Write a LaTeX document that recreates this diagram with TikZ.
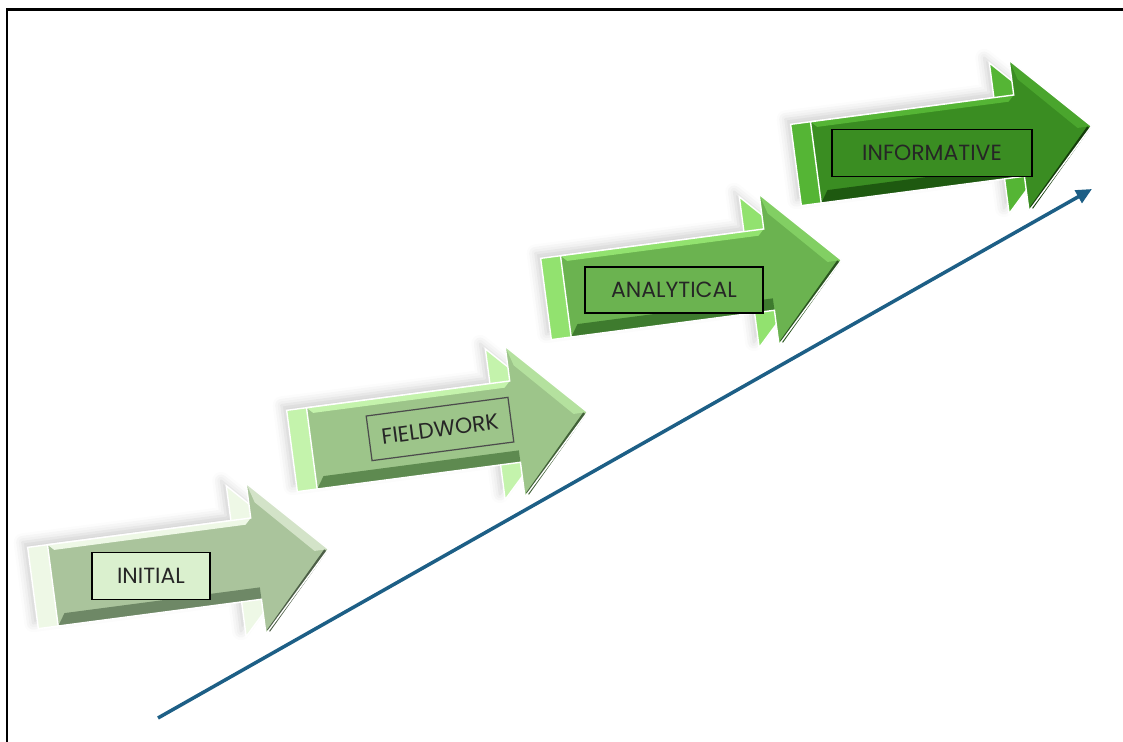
\documentclass[tikz,border=0pt]{standalone}
\usepackage{fontspec}
\setmainfont{Poppins}
\usetikzlibrary{arrows.meta,shadows.blur}

\definecolor{trendblue}{HTML}{1D5F86}
\definecolor{iniside}{HTML}{EEF8E6}
\definecolor{iniface}{HTML}{AAC49C}
\definecolor{inidark}{HTML}{6E8866}
\definecolor{inibox}{HTML}{DAF0CE}
\definecolor{fldside}{HTML}{C4F3AC}
\definecolor{fldface}{HTML}{9DC58A}
\definecolor{flddark}{HTML}{5E8A50}
\definecolor{anaside}{HTML}{92E26F}
\definecolor{anaface}{HTML}{6BB350}
\definecolor{anadark}{HTML}{3E7B2E}
\definecolor{infside}{HTML}{55B535}
\definecolor{infface}{HTML}{3A8D22}
\definecolor{infdark}{HTML}{1E5910}

\tikzset{
  lab/.style={draw=black, line width=0.7pt, inner sep=0pt, text=black!85,
    font=\fontsize{12.5}{14}\selectfont},
}

\begin{document}
\begin{tikzpicture}[x=0.02cm, y=-0.02cm]
  \useasboundingbox (0,0) rectangle (1123,742);
  % frame (top and left only)
  \draw[line width=1.7pt] (1123,10) -- (7,10) -- (7,742);

  % the four steps
  \foreach \px/\py/\sd/\fc/\dk in {33/588/iniside/iniface/inidark,
      292/451/fldside/fldface/flddark, 546/299/anaside/anaface/anadark,
      796/165/infside/infface/infdark}{
    \begin{scope}[shift={(\px,\py)}, rotate=7.5]
      \fill[\sd, blur shadow={shadow xshift=-3pt, shadow yshift=3pt, shadow opacity=18,
          shadow blur radius=5pt}]
        (0,-41) -- (205,-41) -- (205,-76) -- (278,0) -- (205,76) -- (205,41) -- (0,41) -- cycle;
      \draw[white, line width=0.8pt]
        (0,-41) -- (205,-41) -- (205,-76) -- (278,0) -- (205,76) -- (205,41) -- (0,41) -- cycle;
      \fill[\fc] (20,-41) -- (225,-41) -- (225,-76) -- (298,0) -- (225,76) -- (225,41)
        -- (20,41) -- cycle;
      \fill[\sd] (20,-41) -- (225,-41) -- (219,-35) -- (26,-35) -- cycle;
      \fill[\sd!60!\fc] (225,-76) -- (298,0) -- (284,0) -- (231,-56) -- cycle;
      \fill[\dk] (28,29) -- (225,29) -- (225,41) -- (20,41) -- cycle;
      \draw[\dk!70!black, line width=2pt] (228,73) -- (295,1);
      \draw[white, line width=0.8pt] (20,-41) -- (225,-41) -- (225,-76) -- (298,0)
        -- (225,76) -- (225,41) -- (20,41) -- cycle;
    \end{scope}
  }

  % labels
  \node[lab, fill=inibox, minimum width=2.36cm, minimum height=0.94cm] (initial)
    at (151,576) {INITIAL};
  \node[lab, fill=fldface, draw=black!70, rotate=7.5, minimum width=2.86cm,
    minimum height=0.9cm] (fieldwork) at (440,429) {FIELDWORK};
  \node[lab, fill=anaface, minimum width=3.56cm, minimum height=0.92cm] (analytical)
    at (674,290) {ANALYTICAL};
  \node[lab, fill=infface, minimum width=4cm, minimum height=0.94cm] (informative)
    at (932,153) {INFORMATIVE};

  % trend line
  \coordinate (trendstart) at (158,718);
  \coordinate (trendend) at (1092,189);
  \draw[trendblue, line width=2pt, -{Triangle[length=9pt, width=8pt]}]
    (trendstart) -- (trendend);
\end{tikzpicture}
\end{document}
